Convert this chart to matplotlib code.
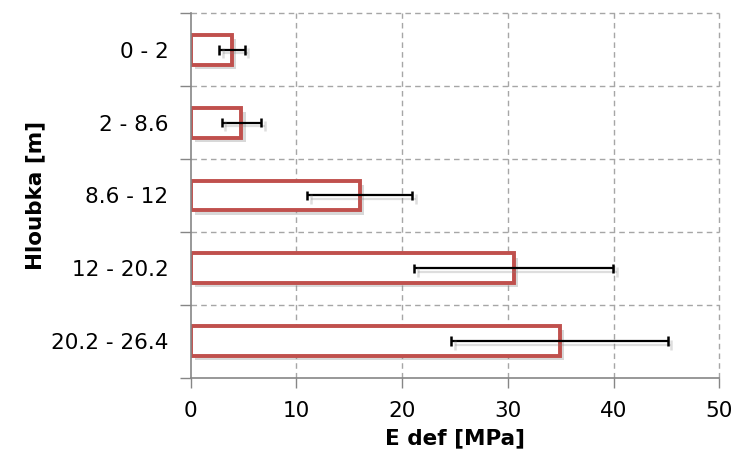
import matplotlib
matplotlib.use("Agg")
import matplotlib.pyplot as plt
import matplotlib.patheffects as pe
from matplotlib.ticker import FixedLocator, NullFormatter
import numpy as np

plt.rcParams['font.family'] = ['DejaVu Sans']

# Depth intervals and deformation modulus (mean +/- spread)
depths = ["0 - 2", "2 - 8.6", "8.6 - 12", "12 - 20.2", "20.2 - 26.4"]
e_def = [3.9, 4.8, 16.0, 30.55, 34.9]
e_err = [1.2, 1.86, 4.97, 9.4, 10.25]
x_ticks = [0, 10, 20, 30, 40, 50]

fig = plt.figure(figsize=(7.36, 4.58), dpi=100)
ax = fig.add_axes([0.2591, 0.1753, 0.9773 - 0.2591, 0.971 - 0.1753])

y = np.arange(len(depths))
bar_shadow = [pe.SimplePatchShadow(offset=(3, -3), shadow_rgbFace='#7F7F7F', alpha=0.3), pe.Normal()]
line_shadow = [pe.SimpleLineShadow(offset=(2.5, -2.5), shadow_color='#7F7F7F', alpha=0.25), pe.Normal()]

bars = ax.barh(y, e_def, height=0.41, color='white', edgecolor='#C0504D',
               linewidth=2.8, zorder=3)
for b in bars:
    b.set_path_effects(bar_shadow)

eb = ax.errorbar(e_def, y, xerr=e_err, fmt='none', ecolor='black',
                 elinewidth=1.6, capsize=3.5, capthick=1.8, zorder=4)
for coll in eb.lines[2]:
    coll.set_path_effects(line_shadow)
for cap in eb.lines[1]:
    cap.set_path_effects(line_shadow)

ax.set_xlim(0, 50)
ax.set_ylim(len(depths) - 0.5, -0.5)

ax.set_xticks(x_ticks)
ax.set_yticks(y)
ax.set_yticklabels(depths)
ax.yaxis.set_minor_locator(FixedLocator(np.arange(-0.5, len(depths), 1.0)))
ax.yaxis.set_minor_formatter(NullFormatter())

ax.tick_params(axis='y', which='major', length=0, pad=16, labelsize=15.5, colors='#000000')
ax.tick_params(axis='y', which='minor', length=8, color='#868686', width=1)
ax.tick_params(axis='x', which='major', length=7, color='#868686', width=1,
               pad=10, labelsize=15.5)

# dashed grid: vertical at each x tick, horizontal at category boundaries
grid_style = dict(linestyle=(0, (4, 3)), color='#A6A6A6', linewidth=1, zorder=0, clip_on=False)
for xv in x_ticks[1:]:
    ax.axvline(xv, **grid_style)
for yb in np.arange(-0.5, len(depths) - 1, 1.0):
    ax.axhline(yb, **grid_style)

for side in ('top', 'right'):
    ax.spines[side].set_visible(False)
for side in ('left', 'bottom'):
    ax.spines[side].set_color('#868686')
    ax.spines[side].set_linewidth(1.2)
    ax.spines[side].set_zorder(5)

ax.set_xlabel("E def [MPa]", fontsize=15.5, fontweight='bold', labelpad=5)
ax.set_ylabel("Hloubka [m]", fontsize=15.5, fontweight='bold', labelpad=4)

fig.savefig("out.png", dpi=100)
